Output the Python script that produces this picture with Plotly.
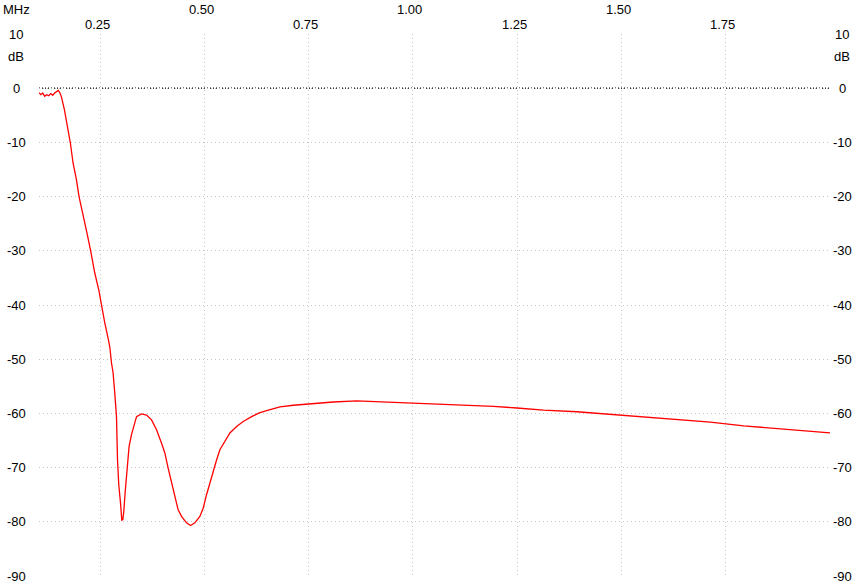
import plotly.graph_objects as go

# Frequency (MHz) and level (dB)
freq_mhz = [0.1036, 0.1077, 0.1125, 0.1173, 0.1221, 0.1269, 0.1317, 0.1365, 0.1413,
            0.1461, 0.1497, 0.1533, 0.1574, 0.1646, 0.1694, 0.1790, 0.1852, 0.1934,
            0.1996, 0.2092, 0.2188, 0.2277, 0.2373, 0.2469, 0.2534, 0.2613, 0.2692,
            0.2733, 0.2774, 0.2812, 0.2853, 0.2894, 0.2918, 0.2949, 0.2990, 0.3021,
            0.3045, 0.3069, 0.3100, 0.3148, 0.3196, 0.3254, 0.3292, 0.3374, 0.3494,
            0.3614, 0.3734, 0.3854, 0.3974, 0.4053, 0.4132, 0.4213, 0.4293, 0.4372,
            0.4453, 0.4573, 0.4669, 0.4773, 0.4893, 0.4972, 0.5053, 0.5133, 0.5212,
            0.5293, 0.5373, 0.5493, 0.5613, 0.5773, 0.5932, 0.6133, 0.6316, 0.6493,
            0.6813, 0.7132, 0.7532, 0.8092, 0.8653, 0.9292, 1.0011, 1.0652, 1.1293,
            1.1931, 1.2493, 1.3131, 1.3933, 1.4732, 1.5531, 1.6333, 1.7132, 1.7931,
            1.8732, 1.9532, 2.0000]
level_db = [-0.8, -1.2, -0.9, -1.5, -1.2, -1.4, -1.0, -1.3, -0.9,
            -0.6, -0.4, -0.8, -1.6, -4.0, -5.9, -10.2, -13.8, -16.9,
            -20.0, -23.7, -26.8, -30.1, -34.1, -37.2, -40.3, -43.3, -46.1,
            -47.7, -50.7, -52.5, -56.3, -60.6, -68.6, -73.2, -76.5, -79.7,
            -79.6, -78.1, -74.7, -70.4, -66.1, -63.9, -62.7, -60.6, -60.1,
            -60.3, -61.2, -63.0, -65.5, -67.3, -70.1, -72.9, -75.3, -77.8,
            -79.0, -80.2, -80.7, -80.2, -79.0, -77.5, -75.0, -72.9, -70.4,
            -68.6, -66.7, -65.2, -63.6, -62.4, -61.5, -60.6, -59.9, -59.5,
            -58.8, -58.5, -58.2, -57.9, -57.7, -57.9, -58.0, -58.2, -58.5,
            -58.7, -59.0, -59.4, -59.7, -60.2, -60.7, -61.2, -61.6, -62.3,
            -62.8, -63.2, -63.6]

x_ticks_row1 = [0.50, 1.00, 1.50]
x_ticks_row2 = [0.25, 0.75, 1.25, 1.75]
y_ticks = [10, 0, -10, -20, -30, -40, -50, -60, -70, -80, -90]
x_range = [0.1036, 2.0]
y_range = [-90, 10]

FONT = "Liberation Sans, Arial, sans-serif"
fig = go.Figure()
fig.add_trace(go.Scatter(x=freq_mhz, y=level_db, mode="lines",
                         line=dict(color="#ff0000", width=1.3), hoverinfo="skip"))

grid_x = [x_range[0]] + sorted(x_ticks_row1 + x_ticks_row2) + [x_range[1]]
fig.update_xaxes(range=x_range, tickvals=grid_x, showticklabels=False, ticks="",
                 showgrid=True, gridcolor="#c4c4c4", griddash="1px,3px", gridwidth=1,
                 zeroline=False, showline=False)
fig.update_yaxes(range=y_range, tickvals=y_ticks, showticklabels=False, ticks="",
                 showgrid=True, gridcolor="#c4c4c4", griddash="1px,3px", gridwidth=1,
                 zeroline=False, showline=False)

# black dotted 0 dB reference line
fig.add_shape(type="line", xref="paper", yref="y", x0=0, x1=1, y0=0, y1=0,
              line=dict(color="#000000", width=1.2, dash="1px,2px"), layer="below")

ann = []
for v in y_ticks:
    ann.append(dict(x=-23 / 791, xref="paper", y=v, yref="y", text=str(v),
                    showarrow=False, xanchor="center", yanchor="middle"))
    ann.append(dict(x=1 + 12 / 791, xref="paper", y=v, yref="y", text=str(v),
                    showarrow=False, xanchor="center", yanchor="middle"))
for side in (-23 / 791, 1 + 12 / 791):
    ann.append(dict(x=side, xref="paper", y=5.8, yref="y", text="dB",
                    showarrow=False, xanchor="center", yanchor="middle"))
for v in x_ticks_row1:
    ann.append(dict(x=v, xref="x", y=1 + 25 / 542, yref="paper", text=f"{v:.2f}",
                    showarrow=False, xanchor="center", yanchor="middle", xshift=-3))
for v in x_ticks_row2:
    ann.append(dict(x=v, xref="x", y=1 + 10 / 542, yref="paper", text=f"{v:.2f}",
                    showarrow=False, xanchor="center", yanchor="middle", xshift=-3))
ann.append(dict(x=-23 / 791, xref="paper", y=1 + 25 / 542, yref="paper", text="MHz",
                showarrow=False, xanchor="center", yanchor="middle"))

fig.update_layout(width=854, height=588, margin=dict(l=39, r=24, t=34, b=12),
                  plot_bgcolor="#ffffff", paper_bgcolor="#ffffff", showlegend=False,
                  font=dict(family=FONT, size=13, color="#000000"),
                  annotations=ann)
fig.write_html("out.html", config={"displayModeBar": False},
               post_script="document.body.style.margin='0';document.body.style.overflow='hidden';")
